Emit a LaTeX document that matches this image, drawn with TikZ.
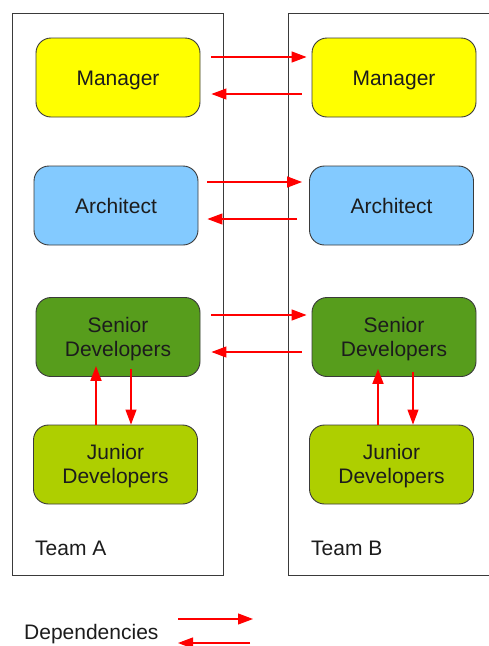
\documentclass[tikz,border=0pt]{standalone}
\usepackage{fontspec}
\setmainfont{Liberation Sans}
\usetikzlibrary{arrows.meta}
\definecolor{txt}{HTML}{1C1C1C}
\definecolor{frame}{HTML}{3A3A3A}
\definecolor{mgr}{HTML}{FFFF00}
\definecolor{arch}{HTML}{83CAFF}
\definecolor{senior}{HTML}{579D1C}
\definecolor{junior}{HTML}{AECF00}
\tikzset{
  role/.style={draw=frame, line width=0.9pt, rounded corners=15pt,
    minimum width=164pt, minimum height=79pt, inner sep=0pt},
  roletext/.style={text=txt, font=\fontsize{21}{24}\selectfont,
    align=center, inner sep=0pt, yshift=-3pt},
  team/.style={draw=frame, line width=0.9pt, inner sep=0pt},
  tag/.style={text=txt, font=\fontsize{21}{24}\selectfont, inner sep=0pt, anchor=base west},
  dep/.style={draw=red, line width=1.4pt,
    -{Triangle[length=15pt,width=11pt]}},
  depthin/.style={dep, line width=1.1pt},
}
\begin{document}
\begin{tikzpicture}[x=1pt, y=-1pt]
\clip (0,0) rectangle (489,646);
\fill[white] (0,0) rectangle (489,646);

% team frames
\draw[team] (12,13) rectangle (223,575);
\draw[team] (288,13) -- (540,13) (288,13) -- (288,575) -- (540,575);
\node[tag] (teamA) at (35,555) {Team A};
\node[tag] (teamB) at (311,555) {Team B};

% team A roles
\node[role, fill=mgr, label={[roletext, name=manAt]center:Manager}]    (manA) at (118,77.5)  {};
\node[role, fill=arch, label={[roletext, yshift=3pt, name=arcAt]center:Architect}]  (arcA) at (116,205.5) {};
\node[role, fill=senior, label={[roletext, yshift=1pt, name=senAt]center:Senior\\Developers}] (senA) at (118,337) {};
\node[role, fill=junior, label={[roletext, yshift=1pt, name=junAt]center:Junior\\Developers}] (junA) at (115.5,464.5) {};

% team B roles
\node[role, fill=mgr, label={[roletext, name=manBt]center:Manager}]    (manB) at (394,77.5)  {};
\node[role, fill=arch, label={[roletext, yshift=3pt, name=arcBt]center:Architect}]  (arcB) at (391.5,205.5) {};
\node[role, fill=senior, label={[roletext, yshift=1pt, name=senBt]center:Senior\\Developers}] (senB) at (394,337) {};
\node[role, fill=junior, label={[roletext, yshift=1pt, name=junBt]center:Junior\\Developers}] (junB) at (391.5,464.5) {};

% dependencies between the teams
\draw[dep, shorten <=11pt, shorten >=5pt]
  ([yshift=20.5pt]manA.east) -- ([yshift=20.5pt]manB.west);
\draw[depthin, shorten <=10pt, shorten >=11pt]
  ([yshift=-16.5pt]manB.west) -- ([yshift=-16.5pt]manA.east);
\draw[dep, shorten <=9pt, shorten >=7pt]
  ([yshift=23.5pt]arcA.east) -- ([yshift=23.5pt]arcB.west);
\draw[depthin, shorten <=12pt, shorten >=9pt]
  ([yshift=-13.5pt]arcB.west) -- ([yshift=-13.5pt]arcA.east);
\draw[dep, shorten <=11pt, shorten >=5pt]
  ([yshift=22pt]senA.east) -- ([yshift=22pt]senB.west);
\draw[depthin, shorten <=10pt, shorten >=11pt]
  ([yshift=-15pt]senB.west) -- ([yshift=-15pt]senA.east);

% dependencies inside each team
\coordinate (upA) at ([xshift=-22pt]senA.south);
\coordinate (dnA) at ([xshift=13pt]senA.south);
\coordinate (upB) at ([xshift=-16pt]senB.south);
\coordinate (dnB) at ([xshift=19pt]senB.south);
\draw[dep, line width=1.8pt, shorten >=-11pt] (upA |- junA.north) -- (upA);
\draw[depthin, shorten <=-8pt] (dnA) -- (dnA |- junA.north);
\draw[dep, line width=1.8pt, shorten >=-8pt] (upB |- junB.north) -- (upB);
\draw[depthin, shorten <=-5pt] (dnB) -- (dnB |- junB.north);

% legend
\node[tag] (legend) at (24,639) {Dependencies};
\coordinate (lgA) at (178,619);
\coordinate (lgB) at (253,619);
\coordinate (lgC) at (250,643);
\coordinate (lgD) at (178,643);
\draw[depthin] (lgA) -- (lgB);
\draw[depthin] (lgC) -- (lgD);
\end{tikzpicture}
\end{document}
